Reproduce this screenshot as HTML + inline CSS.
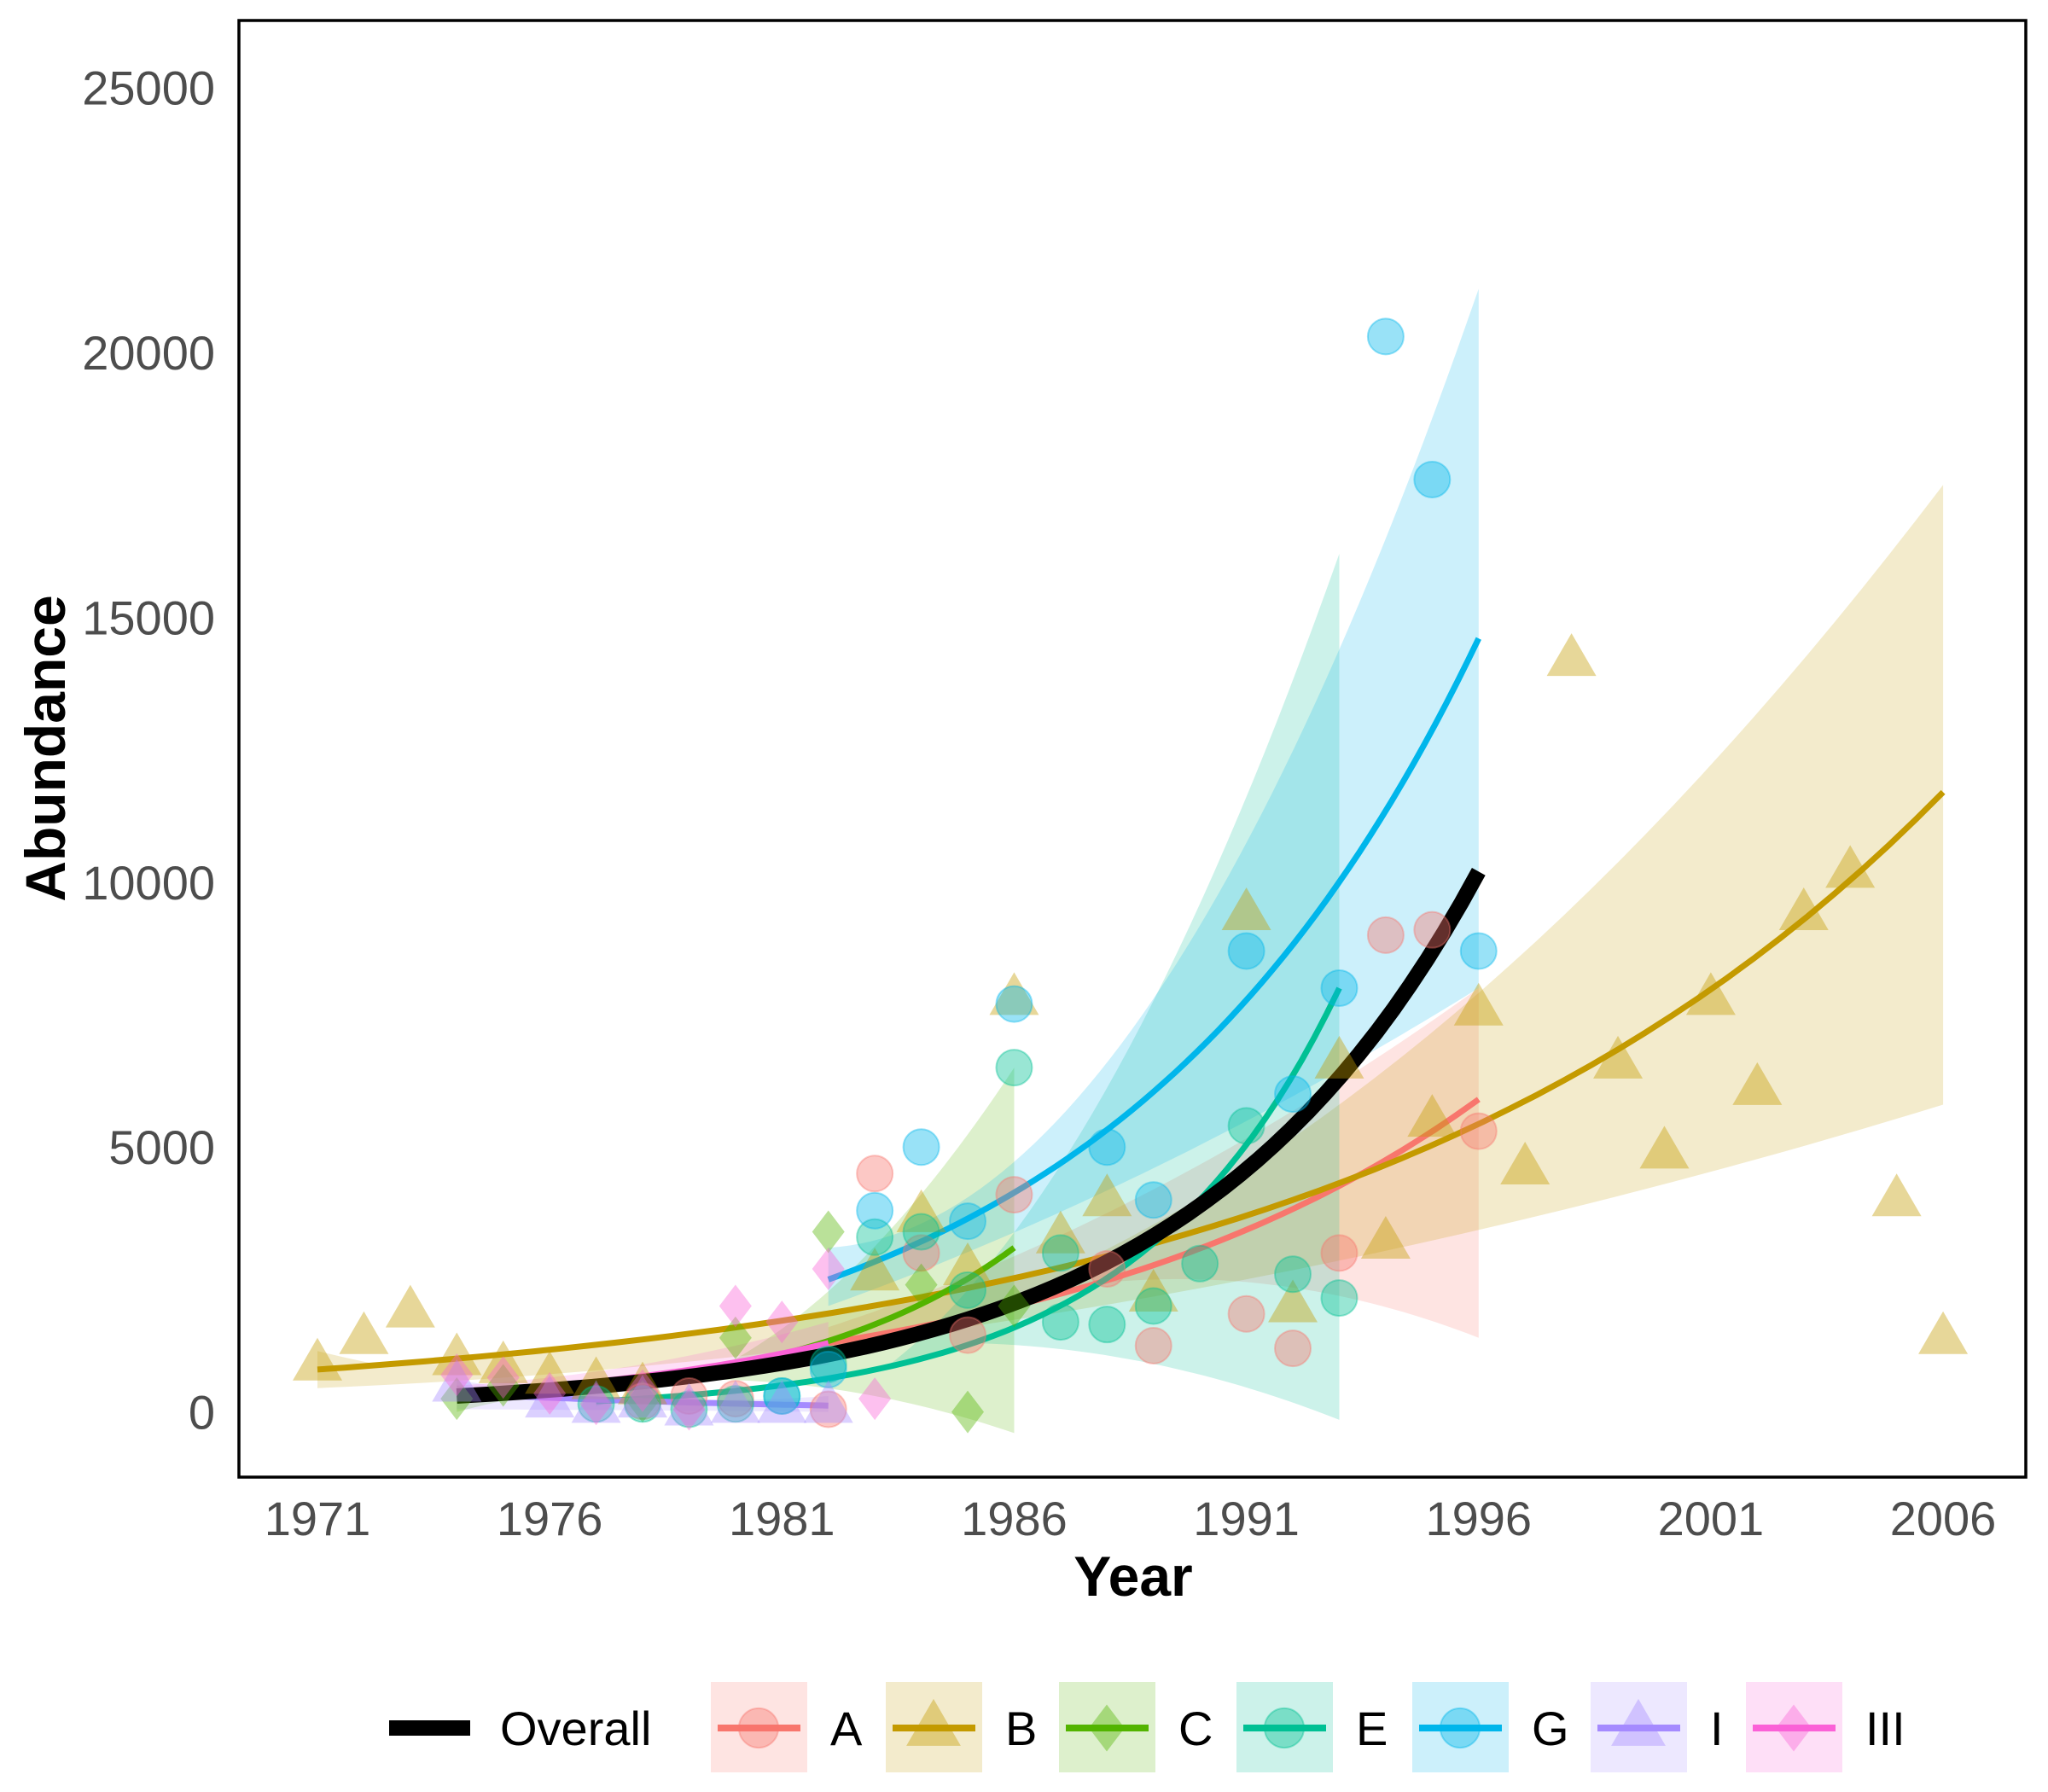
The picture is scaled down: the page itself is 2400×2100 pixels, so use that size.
<!DOCTYPE html>
<html><head><meta charset="utf-8"><style>
html,body{margin:0;padding:0;background:#fff;}
svg{display:block;font-family:"Liberation Sans",Arial,sans-serif;}
</style></head><body>
<svg id="chart" width="2400" height="2100" viewBox="0 0 2400 2100" xmlns="http://www.w3.org/2000/svg">
<g id="ribbons"></g>
<g id="fits"></g>
<g id="points"></g>
<rect x="280" y="24" width="2094" height="1707" fill="none" stroke="#000" stroke-width="3.5"/>
<g id="yticks"></g>
<g id="xticks"></g>
<text x="1328" y="1870" text-anchor="middle" font-size="66" font-weight="bold">Year</text>
<text transform="translate(76,877) rotate(-90)" text-anchor="middle" font-size="66" font-weight="bold">Abundance</text>
<g id="legend"></g>
</svg>
<script>
const NS="http://www.w3.org/2000/svg";
const yTicks=[0,5000,10000,15000,20000,25000];
const xTicks=[1971,1976,1981,1986,1991,1996,2001,2006];
const seriesNames=["A","B","C","E","G","I","III"];
const seriesColors=["#F8766D","#C49A00","#53B400","#00C094","#00B6EB","#A58AFF","#FB61D7"];
const seriesShapes=["circle","triangle","diamond","circle","circle","triangle","diamond"];
const ptsA=[[1978,200],[1979,300],[1980,250],[1982,50],[1983,4500],[1984,3000],[1985,1450],[1986,4100],[1988,2700],[1989,1250],[1991,1850],[1992,1200],[1993,3000],[1994,9000],[1995,9100],[1996,5300]];
const ptsB=[[1971,900],[1972,1400],[1973,1900],[1974,1000],[1975,850],[1976,650],[1977,550],[1978,450],[1983,2600],[1984,3700],[1985,2700],[1986,7800],[1987,3300],[1988,4000],[1989,2200],[1991,9400],[1992,2000],[1993,6600],[1994,3200],[1995,5500],[1996,7600],[1997,4600],[1998,14200],[1999,6600],[2000,4900],[2001,7800],[2002,6100],[2003,9400],[2004,10200],[2005,4000],[2006,1400]];
const ptsC=[[1974,250],[1975,500],[1978,200],[1980,1400],[1982,3400],[1984,2400],[1985,0],[1986,2000]];
const ptsE=[[1977,150],[1978,150],[1979,50],[1980,150],[1981,300],[1982,900],[1983,3300],[1984,3400],[1985,2300],[1986,6500],[1987,1700],[1987,3000],[1988,1650],[1989,2000],[1990,2800],[1991,5400],[1992,2600],[1993,2150]];
const ptsG=[[1981,300],[1982,800],[1983,3800],[1984,5000],[1985,3600],[1986,7700],[1988,5000],[1989,4000],[1991,8700],[1992,6000],[1993,8000],[1994,20300],[1995,17600],[1996,8700]];
const ptsI=[[1974,500],[1976,200],[1977,100],[1978,200],[1979,50],[1980,100],[1981,100],[1982,100]];
const ptsIII=[[1974,700],[1975,650],[1976,350],[1977,150],[1978,400],[1979,50],[1980,2000],[1981,1700],[1982,2700],[1983,250]];
const seriesPoints=[ptsA,ptsB,ptsC,ptsE,ptsG,ptsI,ptsIII];
// fits: [startYear,endYear,startValue,endValue]
const fitYears=[[1982,1996],[1971,2006],[1974,1986],[1977,1993],[1982,1996],[1974,1982],[1974,1982]];
const fitValues=[[1300,5900],[800,11700],[250,3100],[200,8000],[2500,14600],[350,120],[350,1300]];
// ribbons: lower/upper at start, middle, end
const ribbonLower=[[1000,2500,1400],[450,2100,5800],[0,600,-400],[100,1300,-150],[2000,4600,8000],[50,30,0],[200,500,900]];
const ribbonUpper=[[1600,4200,8000],[1150,3300,17500],[500,1000,6500],[300,2300,16200],[3100,7800,21200],[600,250,300],[500,900,1700]];
const overallYears=[1974,1996];
const overallValues=[300,10200];

const X=y=>372+(y-1971)*54.43;
const Y=v=>1654.6-v*0.06208;
function el(t,a,p){const e=document.createElementNS(NS,t);for(const k in a)e.setAttribute(k,a[k]);p.appendChild(e);return e;}
function expv(t0,t1,v0,v1,t){const f=(t-t0)/(t1-t0);if(v0>0&&v1>0)return v0*Math.pow(v1/v0,f);return v0+(v1-v0)*f;}
function quad(t0,t1,a,t){const f=(t-t0)/(t1-t0);return a[0]*(1-f)*(1-2*f)+a[1]*4*f*(1-f)+a[2]*f*(2*f-1);}
const R=document.getElementById('ribbons'),F=document.getElementById('fits'),P=document.getElementById('points');
seriesNames.forEach((n,i)=>{
 const [t0,t1]=fitYears[i];const N=60;let up=[],lo=[],ln=[];
 for(let k=0;k<=N;k++){const t=t0+(t1-t0)*k/N;
  const c=expv(t0,t1,fitValues[i][0],fitValues[i][1],t);
  const l=Math.min(c,quad(t0,t1,ribbonLower[i],t)),u=Math.max(c,quad(t0,t1,ribbonUpper[i],t));
  up.push(X(t).toFixed(1)+','+Y(u).toFixed(1));lo.unshift(X(t).toFixed(1)+','+Y(l).toFixed(1));ln.push(X(t).toFixed(1)+','+Y(c).toFixed(1));}
 const rb=el('polygon',{points:up.concat(lo).join(' '),fill:seriesColors[i],'fill-opacity':0.2},R);
 
 
 const fl=el('polyline',{points:ln.join(' '),fill:'none',stroke:seriesColors[i],'stroke-width':7},F);
 
 
});
{let ln=[];for(let k=0;k<=60;k++){const t=overallYears[0]+(overallYears[1]-overallYears[0])*k/60;ln.push(X(t).toFixed(1)+','+Y(expv(overallYears[0],overallYears[1],overallValues[0],overallValues[1],t)).toFixed(1));}
 const o=el('polyline',{points:ln.join(' '),fill:'none',stroke:'#000','stroke-width':18},F);
 
 }
function marker(shape,cx,cy,col,parent,sz){let e;sz=sz||1;
 if(shape==='circle')e=el('circle',{cx:cx,cy:cy,r:21*sz,fill:col,'fill-opacity':0.4,stroke:col,'stroke-opacity':0.4,'stroke-width':2},parent);
 else if(shape==='triangle'){const h=50*sz,w=29*sz;e=el('polygon',{points:`${cx},${cy-h*0.62} ${cx-w},${cy+h*0.38} ${cx+w},${cy+h*0.38}`,fill:col,'fill-opacity':0.4},parent);}
 else {const a=19*sz,b=25*sz;e=el('polygon',{points:`${cx},${cy-b} ${cx+a},${cy} ${cx},${cy+b} ${cx-a},${cy}`,fill:col,'fill-opacity':0.4},parent);}
 return e;}
seriesPoints.forEach((pts,i)=>{pts.forEach(p=>{const m=marker(seriesShapes[i],X(p[0]),Y(p[1]),seriesColors[i],P);
 
 });});
const YT=document.getElementById('yticks');
yTicks.forEach(v=>{const t=el('text',{x:252,y:Y(v)+20,'text-anchor':'end','font-size':56,fill:'#4d4d4d'},YT);t.textContent=v;
 
 });
const XT=document.getElementById('xticks');
xTicks.forEach(v=>{const t=el('text',{x:X(v),y:1799,'text-anchor':'middle','font-size':56,fill:'#4d4d4d'},XT);t.textContent=v;
 
 });
const L=document.getElementById('legend');
{const l=el('line',{x1:456,y1:2025,x2:551,y2:2025,stroke:'#000','stroke-width':18},L);
 
 
 const t=el('text',{x:586,y:2045,'font-size':56},L);t.textContent='Overall';
 
 }
const legX=[833,1038,1241,1449,1655,1864,2046];
seriesNames.forEach((n,i)=>{const g=el('g',{},L);
 
 
 const x0=legX[i];el('rect',{x:x0,y:1971,width:113,height:106,fill:seriesColors[i],'fill-opacity':0.2},g);
 el('line',{x1:x0+8,y1:2025,x2:x0+105,y2:2025,stroke:seriesColors[i],'stroke-width':8},g);
 marker(seriesShapes[i],x0+56,2025,seriesColors[i],g,1.1);
 const t=el('text',{x:x0+140,y:2045,'font-size':56},g);t.textContent=n;});
</script>
</body></html>
